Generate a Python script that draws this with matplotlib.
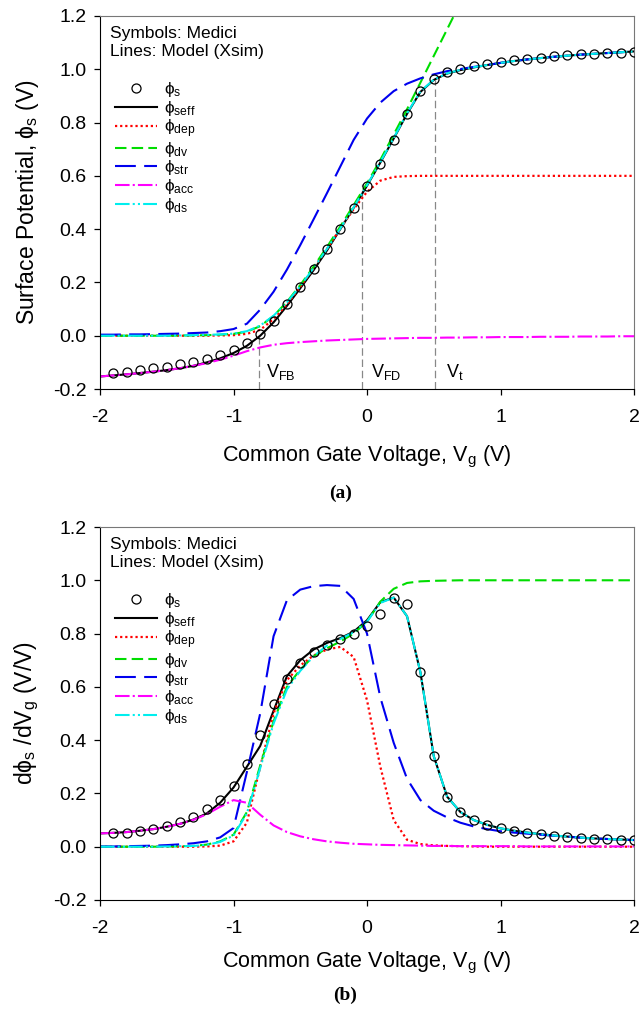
import numpy as np
import matplotlib
matplotlib.use("Agg")
import matplotlib.pyplot as plt

plt.rcParams['font.family'] = ['Liberation Sans', 'DejaVu Sans']
plt.rcParams['mathtext.fontset'] = 'custom'
plt.rcParams['mathtext.rm'] = 'Liberation Sans'
plt.rcParams['mathtext.it'] = 'Liberation Sans'
plt.rcParams['axes.unicode_minus'] = False

# Medici points (symbols)
vg_sim = np.round(np.linspace(-1.9, 2.0, 40), 1)
phis_sim = [-0.141, -0.135, -0.129, -0.123, -0.116, -0.106, -0.098, -0.088, -0.074, -0.054,
            -0.028, 0.006, 0.056, 0.119, 0.184, 0.252, 0.325, 0.402, 0.480, 0.563,
            0.646, 0.734, 0.831, 0.919, 0.965, 0.988, 1.000, 1.011, 1.021, 1.029,
            1.034, 1.040, 1.044, 1.049, 1.053, 1.056, 1.059, 1.062, 1.063, 1.065]
dphis_sim = [0.050, 0.053, 0.059, 0.068, 0.078, 0.091, 0.111, 0.140, 0.175, 0.229,
             0.309, 0.419, 0.535, 0.628, 0.688, 0.730, 0.756, 0.781, 0.800, 0.828,
             0.873, 0.935, 0.910, 0.656, 0.340, 0.188, 0.131, 0.100, 0.081, 0.069,
             0.059, 0.053, 0.046, 0.041, 0.038, 0.034, 0.030, 0.028, 0.026, 0.025]

# model curves (Xsim)
vg = np.round(np.linspace(-2.0, 2.0, 41), 1)

# (a) surface potentials
seff_a = [-0.153, -0.149, -0.145, -0.140, -0.135, -0.129, -0.122, -0.113, -0.100, -0.085,
          -0.065, -0.038, 0.000, 0.050, 0.112, 0.178, 0.246, 0.320, 0.400, 0.480,
          0.563, 0.650, 0.740, 0.833, 0.915, 0.960, 0.984, 0.997, 1.007, 1.016,
          1.024, 1.031, 1.037, 1.042, 1.047, 1.051, 1.055, 1.058, 1.061, 1.064, 1.067]
dep_a = [0.000, 0.000, 0.000, 0.000, 0.000, 0.000, 0.000, 0.000, 0.000, 0.001,
         0.002, 0.007, 0.022, 0.062, 0.118, 0.183, 0.253, 0.326, 0.402, 0.475,
         0.540, 0.582, 0.596, 0.599, 0.600, 0.600, 0.600, 0.600, 0.600, 0.600,
         0.600, 0.600, 0.600, 0.600, 0.600, 0.600, 0.600, 0.600, 0.600, 0.600, 0.600]
dv_a = [0.000, 0.000, 0.000, 0.000, 0.000, 0.000, 0.001, 0.001, 0.002, 0.004,
        0.007, 0.015, 0.036, 0.074, 0.127, 0.190, 0.259, 0.333, 0.410, 0.490,
        0.572, 0.660, 0.755, 0.850, 0.950, 1.050, 1.150, 1.250]
str_a = [0.004, 0.004, 0.005, 0.005, 0.006, 0.007, 0.008, 0.010, 0.012, 0.017,
         0.025, 0.045, 0.098, 0.165, 0.248, 0.340, 0.437, 0.535, 0.635, 0.735,
         0.815, 0.875, 0.918, 0.946, 0.966, 0.981, 0.993, 1.001, 1.009, 1.016,
         1.024, 1.031, 1.037, 1.042, 1.047, 1.051, 1.055, 1.058, 1.061, 1.064, 1.067]
acc_a = [-0.153, -0.149, -0.145, -0.140, -0.135, -0.129, -0.122, -0.113, -0.103, -0.090,
         -0.075, -0.058, -0.044, -0.034, -0.028, -0.024, -0.021, -0.018, -0.016, -0.014,
         -0.012, -0.011, -0.010, -0.009, -0.008, -0.008, -0.007, -0.007, -0.006, -0.006,
         -0.005, -0.005, -0.005, -0.004, -0.004, -0.004, -0.003, -0.003, -0.003, -0.002, -0.002]
ds_a = [0.000, 0.000, 0.000, 0.000, 0.000, 0.000, 0.001, 0.002, 0.003, 0.005,
        0.008, 0.017, 0.038, 0.075, 0.125, 0.186, 0.254, 0.326, 0.402, 0.482,
        0.565, 0.652, 0.742, 0.835, 0.917, 0.961, 0.985, 0.998, 1.008, 1.016,
        1.024, 1.031, 1.037, 1.042, 1.047, 1.051, 1.055, 1.058, 1.061, 1.064, 1.067]

# (b) derivatives
seff_b = [0.050, 0.052, 0.055, 0.060, 0.066, 0.075, 0.086, 0.102, 0.125, 0.165,
          0.222, 0.300, 0.378, 0.510, 0.640, 0.700, 0.740, 0.765, 0.783, 0.807,
          0.850, 0.918, 0.935, 0.865, 0.655, 0.340, 0.188, 0.130, 0.100, 0.082,
          0.069, 0.060, 0.053, 0.047, 0.042, 0.038, 0.034, 0.031, 0.029, 0.027, 0.025]
dep_b = [0.000, 0.000, 0.000, 0.000, 0.000, 0.000, 0.000, 0.000, 0.001, 0.004,
         0.020, 0.090, 0.300, 0.500, 0.625, 0.680, 0.718, 0.740, 0.750, 0.712,
         0.550, 0.300, 0.100, 0.026, 0.010, 0.005, 0.003, 0.002, 0.001, 0.000,
         0.000, 0.000, 0.000, 0.000, 0.000, 0.000, 0.000, 0.000, 0.000, 0.000, 0.000]
dv_b = [0.000, 0.000, 0.000, 0.000, 0.000, 0.001, 0.002, 0.003, 0.008, 0.020,
        0.045, 0.130, 0.305, 0.470, 0.600, 0.665, 0.715, 0.745, 0.770, 0.800,
        0.845, 0.920, 0.968, 0.990, 0.996, 0.998, 0.999, 1.000, 1.000, 1.000,
        1.000, 1.000, 1.000, 1.000, 1.000, 1.000, 1.000, 1.000, 1.000, 1.000, 1.000]
str_b = [0.001, 0.001, 0.002, 0.003, 0.004, 0.006, 0.009, 0.013, 0.020, 0.035,
         0.070, 0.280, 0.500, 0.790, 0.925, 0.965, 0.978, 0.982, 0.979, 0.930,
         0.800, 0.560, 0.390, 0.255, 0.175, 0.135, 0.110, 0.090, 0.076, 0.066,
         0.058, 0.053, 0.049, 0.045, 0.041, 0.038, 0.034, 0.031, 0.029, 0.027, 0.025]
acc_b = [0.050, 0.052, 0.055, 0.060, 0.066, 0.075, 0.086, 0.101, 0.122, 0.150,
         0.175, 0.165, 0.120, 0.080, 0.055, 0.039, 0.028, 0.020, 0.015, 0.011,
         0.009, 0.007, 0.006, 0.005, 0.004, 0.003, 0.003, 0.002, 0.002, 0.002,
         0.002, 0.002, 0.001, 0.001, 0.001, 0.001, 0.001, 0.001, 0.001, 0.001, 0.001]
ds_b = [0.000, 0.000, 0.000, 0.000, 0.000, 0.001, 0.002, 0.003, 0.007, 0.018,
        0.042, 0.125, 0.295, 0.462, 0.590, 0.660, 0.715, 0.755, 0.780, 0.805,
        0.845, 0.915, 0.935, 0.865, 0.655, 0.340, 0.188, 0.130, 0.100, 0.082,
        0.069, 0.060, 0.053, 0.047, 0.042, 0.038, 0.034, 0.031, 0.029, 0.027, 0.025]

# flat-band, full-depletion and threshold voltages with the potential they reach
v_marks = [-0.81, -0.035, 0.512]
phi_marks = [0.0, 0.57, 0.96]
v_names = [r'V$_\mathrm{FB}$', r'V$_\mathrm{FD}$', r'V$_\mathrm{t}$']
v_text_x = [-0.76, 0.03, 0.59]

labels = [r'$\mathrm{\phi_{seff}}$', r'$\mathrm{\phi_{dep}}$', r'$\mathrm{\phi_{dv}}$',
          r'$\mathrm{\phi_{str}}$', r'$\mathrm{\phi_{acc}}$', r'$\mathrm{\phi_{ds}}$']
styles = [
    dict(color='black', ls='-', lw=1.5),
    dict(color='#ff0000', ls=(0, (1, 1.3)), lw=1.6),
    dict(color='#00dd00', ls=(0, (5.5, 2.5)), lw=1.5),
    dict(color='#0000ee', ls=(0, (10, 4)), lw=1.5),
    dict(color='#ff00ff', ls=(0, (7, 1.5, 1, 1.5)), lw=1.5),
    dict(color='#00eeee', ls=(0, (7, 1.5, 1, 1.5, 1, 1.5)), lw=1.5),
]

fig = plt.figure(figsize=(6.39, 10.09), dpi=100)
ax1 = fig.add_axes([100/639, 1-389/1009, 534/639, 373/1009])
ax2 = fig.add_axes([100/639, 1-900/1009, 534/639, 373/1009])


def draw_panel(ax, sim, curves, ylabel, xpad):
    for y, lab, st in zip(curves, labels, styles):
        ax.plot(vg[:len(y)], y, label=lab, **st)
    ax.plot(vg_sim, sim, 'o', ms=6.5, mfc='none', mec='black', mew=0.9,
            label=r'$\mathrm{\phi_{s}}$', zorder=5)

    ax.set_xlim(-2, 2)
    ax.set_ylim(-0.2, 1.2)
    ax.set_xticks([-2, -1, 0, 1, 2])
    ax.set_xticklabels(['-2', '-1', '0', '1', '2'])
    ax.set_yticks(np.arange(-0.2, 1.21, 0.2))
    ax.set_yticklabels(['%.1f' % v for v in np.arange(-0.2, 1.21, 0.2)])
    ax.tick_params(axis='both', direction='out', length=4.5, width=0.9,
                   labelsize=14, top=False, right=False)
    ax.tick_params(axis='x', pad=10)
    ax.tick_params(axis='y', pad=5)
    for s in ['top', 'right']:
        ax.spines[s].set_color('#777777')
    for s in ['left', 'bottom']:
        ax.spines[s].set_color('black')
    ax.set_xlabel(r'Common Gate Voltage, V$_\mathrm{g}$ (V)', fontsize=15.5, labelpad=xpad)
    ax.set_ylabel(ylabel, fontsize=16.5, labelpad=9)

    ax.text(0.019, 0.972, 'Symbols: Medici\nLines: Model (Xsim)', transform=ax.transAxes,
            ha='left', va='top', fontsize=12.5, linespacing=1.25)

    handles, labs = ax.get_legend_handles_labels()
    order = [6, 0, 1, 2, 3, 4, 5]
    ax.legend([handles[i] for i in order], [labs[i] for i in order],
              loc='upper left', bbox_to_anchor=(0.028, 0.828), frameon=False,
              fontsize=12.5, borderpad=0, borderaxespad=0, handlelength=2.4,
              handletextpad=0.45, labelspacing=-0.02)


draw_panel(ax1, phis_sim, [seff_a, dep_a, dv_a, str_a, acc_a, ds_a],
           r'Surface Potential, $\mathrm{\phi_s}$ (V)', 13)
draw_panel(ax2, dphis_sim, [seff_b, dep_b, dv_b, str_b, acc_b, ds_b],
           r'd$\mathrm{\phi_s}$ /dV$_\mathrm{g}$ (V/V)', 9)

for v, p, name, tx in zip(v_marks, phi_marks, v_names, v_text_x):
    ax1.plot([v, v], [-0.2, p], color='#888888', lw=0.9, ls=(0, (6, 3)), zorder=1)
    ax1.text(tx, -0.154, name, fontsize=13, ha='left', va='baseline')

fig.text(341/639, 1-493/1009, '(a)', family='Liberation Serif', weight='bold',
         fontsize=14, ha='center', va='center')
fig.text(345/639, 1-995/1009, '(b)', family='Liberation Serif', weight='bold',
         fontsize=14, ha='center', va='center')

fig.savefig('out.png', dpi=100)
